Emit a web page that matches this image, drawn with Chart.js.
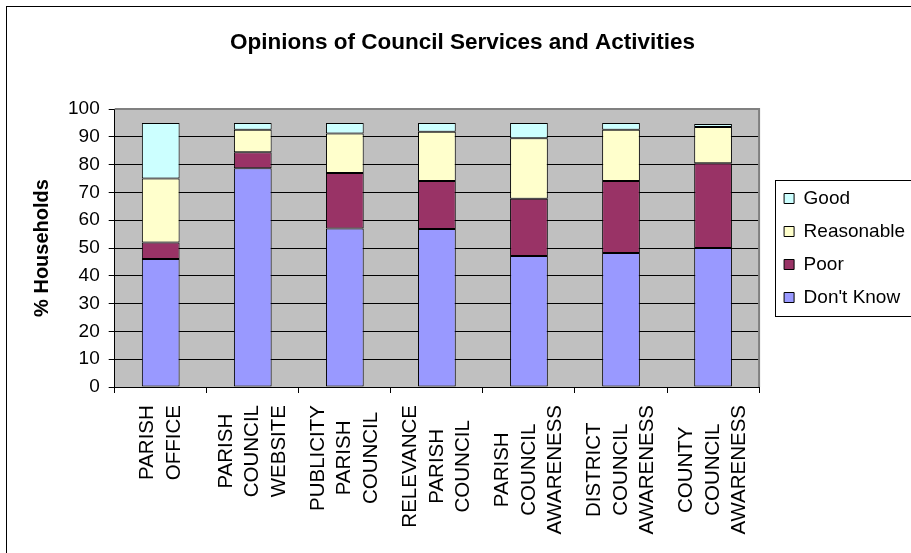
<!DOCTYPE html>
<html>
<head>
<meta charset="utf-8">
<script src="https://cdn.jsdelivr.net/npm/chart.js@4.4.0/dist/chart.umd.min.js"></script>
<style>
  html, body { margin: 0; padding: 0; background: #fff; overflow: hidden; }
  #wrap { width: 911px; height: 553px; position: relative; }
</style>
</head>
<body>
<div id="wrap"><canvas id="chart" width="911" height="553"></canvas></div>
<script>
// ===== Data =====
const categories = [
    ["PARISH", "OFFICE"],
    ["PARISH", "COUNCIL", "WEBSITE"],
    ["PUBLICITY", "PARISH", "COUNCIL"],
    ["RELEVANCE", "PARISH", "COUNCIL"],
    ["PARISH", "COUNCIL", "AWARENESS"],
    ["DISTRICT", "COUNCIL", "AWARENESS"],
    ["COUNTY", "COUNCIL", "AWARENESS"]
];
const dontKnow   = [46, 78.7, 57, 56.8, 47.1, 48.2, 50];
const poor       = [6, 5.7, 20, 17.3, 20.6, 25.9, 30.5];
const reasonable = [23, 8.1, 14.2, 17.7, 21.8, 18.4, 13];
const good       = [20, 2.5, 3.8, 3.2, 5.5, 2.5, 1.1];
const yTicks     = [0, 10, 20, 30, 40, 50, 60, 70, 80, 90, 100];

const FONT = "'Liberation Sans', Arial, sans-serif";
const LEGEND_PAD = 14;

// ===== Plot background, outer frame, legend border =====
const decorPlugin = {
    id: "decor",
    beforeDraw(chart) {
        const { ctx, chartArea: a } = chart;
        ctx.save();
        ctx.fillStyle = "#fff";
        ctx.fillRect(0, 0, chart.width, chart.height);
        ctx.strokeStyle = "#000";
        ctx.lineWidth = 1;
        ctx.strokeRect(6.5, 6.5, chart.width + 20, chart.height + 20);
        ctx.fillStyle = "#C0C0C0";
        ctx.fillRect(a.left, a.top, a.right - a.left, a.bottom - a.top);
        ctx.restore();
    },
    afterDatasetsDraw(chart) {
        const { ctx, chartArea: a } = chart;
        ctx.save();
        ctx.strokeStyle = "#808080";
        ctx.lineWidth = 2;
        ctx.beginPath();
        ctx.moveTo(a.left, a.top);
        ctx.lineTo(a.right, a.top);
        ctx.lineTo(a.right, a.bottom);
        ctx.stroke();
        ctx.restore();
    },
    afterDraw(chart) {
        const lg = chart.legend;
        if (!lg || !lg.columnSizes) return;
        const { ctx } = chart;
        const colH = lg.columnSizes[0].height;
        const firstTop = (lg.top + LEGEND_PAD + lg.bottom - colH) / 2;
        const top = Math.round(firstTop - 9.5) + 0.5;
        const bottom = Math.round(firstTop + colH - LEGEND_PAD + 8.5) + 0.5;
        const left = Math.round(lg.left + LEGEND_PAD - 9) + 0.5;
        ctx.save();
        ctx.strokeStyle = "#000";
        ctx.lineWidth = 1;
        ctx.strokeRect(left, top, chart.width, bottom - top);
        ctx.restore();
    }
};

// ===== Category labels: rotated, lines centred on the category =====
const xLabelPlugin = {
    id: "xLabels",
    afterDraw(chart) {
        const scale = chart.scales.x;
        const { ctx } = chart;
        const lineGap = 26.7;
        ctx.save();
        ctx.font = `20.5px ${FONT}`;
        ctx.fillStyle = "#000";
        ctx.textAlign = "center";
        ctx.textBaseline = "middle";
        chart.data.labels.forEach((lines, i) => {
            const px = scale.getPixelForTick(i);
            const maxLen = Math.max(...lines.map(l => ctx.measureText(l).width));
            const cy = scale.top + 18 + maxLen / 2;
            lines.forEach((line, j) => {
                ctx.save();
                ctx.translate(px + (j - (lines.length - 1) / 2) * lineGap, cy);
                ctx.rotate(-Math.PI / 2);
                ctx.fillText(line, 0, 0);
                ctx.restore();
            });
        });
        ctx.restore();
    }
};

// ===== Small gap between plot area and legend =====
const legendGapPlugin = {
    id: "legendGap",
    beforeInit(chart) {
        Chart.layouts.addBox(chart, {
            position: "right",
            weight: 0,
            fullSize: false,
            options: {},
            left: 0, top: 0, right: 0, bottom: 0, width: 0, height: 0,
            update(maxWidth, maxHeight) { this.width = 11; this.height = maxHeight; },
            isHorizontal() { return false; },
            draw() {}
        });
    }
};

const ds = (label, data, color) => ({
    label, data,
    backgroundColor: color,
    borderColor: "#000",
    borderWidth: 1,
    borderSkipped: false,
    barPercentage: 0.41,
    categoryPercentage: 1
});

new Chart(document.getElementById("chart"), {
    type: "bar",
    data: {
        labels: categories,
        datasets: [
            ds("Don't Know", dontKnow, "#9999FF"),
            ds("Poor", poor, "#993366"),
            ds("Reasonable", reasonable, "#FFFFCC"),
            ds("Good", good, "#CCFFFF")
        ]
    },
    options: {
        responsive: false,
        animation: false,
        layout: { padding: { left: 10, right: -4, top: 0, bottom: 160 } },
        plugins: {
            title: {
                display: true,
                text: "Opinions of Council Services and Activities",
                color: "#000",
                font: { family: FONT, size: 22.5, weight: "bold" },
                padding: { top: 29, bottom: 53 }
            },
            legend: {
                position: "right",
                fullSize: false,
                reverse: true,
                labels: {
                    color: "#000",
                    font: { family: FONT, size: 19 },
                    boxWidth: 10,
                    boxHeight: 10,
                    padding: LEGEND_PAD
                }
            },
            tooltip: { enabled: false }
        },
        scales: {
            x: {
                stacked: true,
                grid: { drawOnChartArea: false, drawTicks: true, tickLength: 6, color: "#000" },
                border: { color: "#000", width: 1 },
                ticks: { display: false }
            },
            y: {
                stacked: true,
                min: 0,
                max: 100,
                afterBuildTicks: (axis) => { axis.ticks = yTicks.map(v => ({ value: v })); },
                grid: { color: "#000", tickLength: 6 },
                border: { color: "#000", width: 1 },
                ticks: {
                    color: "#000",
                    font: { family: FONT, size: 19 },
                    padding: 9
                },
                title: {
                    display: true,
                    text: "% Households",
                    color: "#000",
                    font: { family: FONT, size: 20, weight: "bold" },
                    padding: { top: 20, bottom: 5 }
                }
            }
        }
    },
    plugins: [decorPlugin, xLabelPlugin, legendGapPlugin]
});
</script>
</body>
</html>
